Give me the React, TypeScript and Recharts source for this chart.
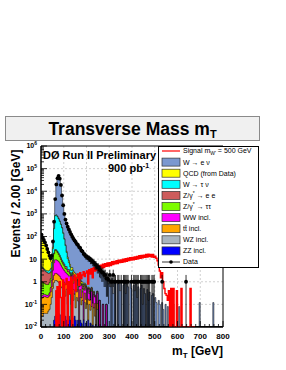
import React from "react";
import {
  Area,
  CartesianGrid,
  ComposedChart,
  ErrorBar,
  Line,
  ReferenceArea,
  Scatter,
  XAxis,
  YAxis,
} from "recharts";

const FONT = "'Liberation Sans', Arial, Helvetica, sans-serif";
const BIN_WIDTH = 5; // GeV, drawn bins (values are per 2 GeV like the y title)
const N_BINS = 160;
const FLOOR = 0.01;

const binCentres = Array.from({ length: N_BINS }, (_, i) => i * BIN_WIDTH + BIN_WIDTH / 2);

// data, events per bin
const dataCounts = [
  120, 90, 70, 55, 40, 28, 20, 14, 11, 14,
  60, 450, 4500, 20000, 38000, 48000, 36000, 19000, 6500, 2400,
  1000, 560, 380, 270, 205, 160, 125, 98, 80, 67,
  57, 47, 42, 34, 31, 24, 22, 17, 16, 13,
  13, 11, 11, 9, 9, 7.6, 7.2, 5.8, 5.6, 4.4,
  4.4, 3.4, 3.2, 2.6, 2.6, 2, 2, 1.4, 1.4, 1.2,
  2, 1, 1, 2, 1, 1, 0, 1, 1, 0,
  1, 0, 1, 1, 1, 1, 1, 0, 0, 1,
  0, 1, 1, 1, 1, 1, 0, 1, 1, 1,
  1, 1, 1, 1, 1, 1, 0, 1, 1, 1,
  0, 0, 0, 0, 0, 0, 1, 0, 0, 0,
  0, 0, 0, 0, 0, 0, 0, 0, 0, 0,
  0, 0, 0, 0, 0, 0, 0, 1,
];

const wenu = [
  0.2, 0.3, 0.4, 0.5, 0.6, 0.7, 0.8, 1, 1.5, 3,
  26, 220, 3650, 19100, 37200, 47400, 35500, 18650, 6250, 2254,
  920, 517, 358, 258, 196, 154, 121, 94, 77, 64,
  52, 43, 41, 31, 30, 21, 22, 15, 15.5, 11.5,
  12.5, 9.5, 10.5, 8, 8.8, 6.5, 7, 5, 5.3, 3.7,
  4.1, 2.8, 3, 2.1, 2.4, 1.5, 1.8, 1, 1.3, 0.8,
  1.1, 0.6, 1.4, 0.3, 0.9, 1.2, 0, 0.8, 1, 0.4,
  0.9, 0, 0.7, 1.1, 0.3, 0.8, 0.6, 0, 0.9, 0.5,
  0, 0.7, 0.4, 0.8, 0.2, 0.6, 0, 0.5, 0.7, 0.1,
  0.5, 0.3, 0, 0.45, 0.15, 0.35, 0, 0.25, 0.3, 0,
  0.2, 0.12, 0, 0.15, 0.1, 0, 0.12, 0.06, 0, 0.1,
  0, 0.08, 0, 0, 0.06, 0, 0.1, 0, 0, 0,
  0, 0.08, 0, 0, 0, 0, 0, 0, 0, 0,
  0, 0, 0, 0, 0, 0, 0, 0, 0, 0.12,
  0, 0, 0, 0, 0, 0, 0, 0, 0, 0,
  0, 0.12,
];

const qcd = [
  115, 86, 66, 51, 36, 25, 17, 11, 7, 6,
  5, 10, 20, 25, 25, 22, 18, 14, 11, 9,
  4, 3, 2.5, 2, 1.6, 1.3, 1.1, 0.9, 0.75, 0.6,
  0.5, 0.42, 0.35, 0.3, 0.25, 0.2, 0.17, 0.14, 0.12, 0.1,
  0.08, 0.07, 0.06, 0.05, 0.04, 0.03, 0.03, 0.02, 0.02, 0.02,
];

const wtaunu = [
  0.3, 0.3, 0.3, 0.35, 0.4, 0.5, 0.6, 0.8, 1, 3,
  20, 200, 800, 850, 720, 580, 450, 330, 230, 130,
  70, 35, 15, 7, 3.5, 2, 1.2, 0.8, 0.5, 0.35,
  0.25, 0.2, 0.15, 0.12, 0.1, 0.08, 0.06, 0.05, 0.04, 0.03,
];

const zee = [
  3.5, 3, 2.6, 2.2, 2, 1.8, 1.6, 1.5, 1.4, 1.4,
  1.5, 1.8, 2.2, 2.4, 2.5, 2.4, 2.2, 1.9, 1.6, 1.4,
  1.2, 0.9, 1.1, 0.6, 0.8, 0.4, 0.7, 0.3, 0.5, 0.2,
  0.45, 0.1, 0.35, 0.15, 0.3, 0, 0.25, 0.1, 0.2, 0,
  0.15, 0.05, 0.12, 0, 0.1, 0, 0.08, 0.03, 0, 0.06,
];

const ztautau = [
  0.8, 0.7, 0.6, 0.55, 0.5, 0.5, 0.5, 0.6, 0.8, 1.5,
  4, 10, 15, 14, 11, 8, 6, 4.2, 3, 2.3,
  1.8, 1.2, 1.2, 0.7, 0.9, 0.4, 0.6, 0.3, 0.4, 0.2,
  0.3, 0.1, 0.25, 0, 0.2, 0.05, 0.15, 0, 0.1, 0.05,
  0.08, 0, 0.06, 0, 0.05,
];

const ww = [
  0.05, 0.05, 0.05, 0.05, 0.05, 0.05, 0.05, 0.08, 0.2, 0.6,
  2, 5, 7, 7, 6.5, 6, 5, 4, 3.2, 2.6,
  2.2, 1.9, 1.6, 1.4, 1.2, 1.05, 0.5, 1.2, 0.4, 0.9,
  0.3, 0.8, 0, 0.6, 0.2, 0.5, 0, 0.45, 0.1, 0.4,
  0, 0.3, 0.15, 0, 0.3, 0, 0.2, 0.1, 0, 0.2,
  0, 0.15, 0, 0, 0.1, 0, 0, 0.1,
];

const ttbar = [
  0.15, 0.17, 0.18, 0.18, 0.17, 0.16, 0.16, 0.18, 0.25, 0.4,
  0.7, 1, 1.2, 1.2, 1.1, 1, 0.9, 0.8, 0.7, 0.6,
  0.55, 0.5, 0.3, 0.6, 0.2, 0.5, 0.1, 0.45, 0.3, 0,
  0.4, 0.15, 0.3, 0, 0.25, 0.1, 0.2, 0, 0.2, 0.1,
  0, 0.15, 0.05, 0.1, 0, 0.1, 0, 0.08, 0, 0.05,
];

const wz = [
  0.03, 0.03, 0.04, 0.04, 0.04, 0.04, 0.05, 0.06, 0.1, 0.2,
  0.5, 0.9, 1.1, 1.1, 1, 0.9, 0.8, 0.6, 0.5, 0.45,
  0.4, 0.2, 0.45, 0.1, 0.35, 0.25, 0, 0.3, 0.15, 0.25,
  0.05, 0.2, 0.12, 0, 0.18, 0.08, 0.15, 0, 0.12, 0.05,
  0.1, 0, 0.1, 0.04, 0.08, 0, 0.07, 0.03, 0, 0.06,
];

const zz = [
  0, 0, 0, 0, 0, 0, 0, 0, 0, 0,
  0.01, 0.02, 0.03, 0.035, 0.04, 0.04, 0.035, 0, 0.03, 0.025,
  0, 0.03, 0.02, 0, 0.03, 0.02, 0, 0.025, 0, 0.03,
  0.02, 0, 0.02, 0, 0.02, 0.015, 0, 0.02, 0, 0.015,
  0, 0.02, 0, 0.015, 0, 0.012, 0, 0, 0.012,
];

// W' (500 GeV) signal, null where no histogram is drawn
const signal = [
  null, null, null, null, null, null, null, null, null, null,
  null, null, 0.4, 0, 0.6, 0, 1, 0.2, 0, 1.2,
  0, 0.8, 1.4, 0, 1, 0.3, 1.6, 0, 1.2, 2,
  0.4, 1.5, 2.2, 0.7, 2.5, 1.4, 2, 2.8, 1.7, 2.4,
  3, 0.8, 3.4, 2.2, 3.8, 1.5, 4.2, 3, 4.8, 3.3,
  5, 3.2, 5.4, 4, 6, 4.2, 6.2, 4.8, 6.8, 5,
  7, 5.2, 7.6, 5.8, 7.8, 6.2, 8.6, 6.4, 9, 7,
  9.2, 7.2, 9.8, 7.6, 10.5, 8, 11, 8.6, 11.5, 9,
  12, 9.4, 12.5, 9.8, 13, 10.4, 14, 11, 14.5, 11.5,
  15, 12, 16, 12.5, 16.5, 13, 16, 12.5, 16, 12,
  13.5, 11, 8.5, 5.5, 3, 1.5, 2.5, 1, 0.5, 0.3,
  0.25, 0.15, 0.4, 0, 0.5, 0, 0.5, 0, 0, 0.4,
  0, 0, 0, 0.5, 0, 0, 0, 0, 0, 0,
  0, 0.5, 0, 0, 0, 0,
];

// bottom of the stack first
const stack = [
  { key: "zz", values: zz, color: "#0000ff" },
  { key: "wz", values: wz, color: "#a8b4bf" },
  { key: "ttbar", values: ttbar, color: "#ffa500" },
  { key: "ww", values: ww, color: "#ff00ff" },
  { key: "ztautau", values: ztautau, color: "#7cfc00" },
  { key: "zee", values: zee, color: "#cd5c5c" },
  { key: "wtaunu", values: wtaunu, color: "#00ffff" },
  { key: "qcd", values: qcd, color: "#ffff00" },
  { key: "wenu", values: wenu, color: "#7b98cf" },
];

const yMajor = [0.01, 0.1, 1, 10, 100, 1000, 10000, 100000, 1000000];

const xTicks: number[] = [];
for (let v = 0; v <= 800; v += 20) xTicks.push(v);
const yTicks: number[] = [];
yMajor.forEach((d, k) => {
  yTicks.push(d);
  if (k < yMajor.length - 1) for (let m = 2; m <= 9; m++) yTicks.push(Number((d * m).toPrecision(3)));
});

const rows = binCentres.map((mt, i) => {
  const row: Record<string, number | null> = { mt };
  let run = 0;
  stack.forEach((s, k) => {
    run += s.values[i] ?? 0;
    row[`c${k}`] = Math.max(run, FLOOR);
  });
  const sig = signal[i];
  row.signal = sig == null ? null : Math.max(sig, FLOOR);
  return row;
});

const dataPoints = binCentres
  .map((mt, i) => ({ mt, count: dataCounts[i] ?? 0 }))
  .filter((p) => p.count > 0)
  .map((p) => ({
    ...p,
    err: [p.count - Math.max(p.count - Math.sqrt(p.count), FLOOR), Math.sqrt(p.count)],
  }));

function XTick({ x, y, payload }: any) {
  const v = payload.value;
  const major = v % 100 === 0;
  return (
    <g>
      <line x1={x} x2={x} y1={y} y2={y - (major ? 6 : 3)} stroke="#000" strokeWidth={0.8} />
      {major && (
        <text x={x} y={y + 11.5} textAnchor="middle" fontSize={8} fontWeight="bold" fontFamily={FONT} fill="#000">
          {v}
        </text>
      )}
    </g>
  );
}

function YTick({ x, y, payload }: any) {
  const lg = Math.log10(payload.value);
  const n = Math.round(lg);
  const major = Math.abs(lg - n) < 1e-6;
  let label = null;
  if (major) {
    label = (
      <text x={x - 4} y={y} dy="0.35em" textAnchor="end" fontSize={7} fontWeight="bold" fontFamily={FONT} fill="#000">
        {n === 0 ? "1" : "10"}
        {n !== 0 && n !== 1 && (
          <tspan dy={-3} fontSize={5}>
            {n}
          </tspan>
        )}
      </text>
    );
  }
  return (
    <g>
      <line x1={x} x2={x + (major ? 6 : 3)} y1={y} y2={y} stroke="#000" strokeWidth={0.8} />
      {label}
    </g>
  );
}

const legendRows = [
  { kind: "line", color: "#ff0000", label: <>Signal m<tspan dy={1.5} fontSize={5}>W'</tspan><tspan dy={-1.5}> = 500 GeV</tspan></> },
  { kind: "box", color: "#7b98cf", label: <>W → e ν</> },
  { kind: "box", color: "#ffff00", label: <>QCD (from Data)</> },
  { kind: "box", color: "#00ffff", label: <>W → τ ν</> },
  { kind: "box", color: "#cd5c5c", label: <>Z/γ<tspan dy={-2.5} fontSize={5}>*</tspan><tspan dy={2.5}> → e e</tspan></> },
  { kind: "box", color: "#7cfc00", label: <>Z/γ<tspan dy={-2.5} fontSize={5}>*</tspan><tspan dy={2.5}> → ττ</tspan></> },
  { kind: "box", color: "#ff00ff", label: <>WW incl.</> },
  { kind: "box", color: "#ffa500", label: <>tt̄ incl.</> },
  { kind: "box", color: "#a8b4bf", label: <>WZ incl.</> },
  { kind: "box", color: "#0000ff", label: <>ZZ incl.</> },
  { kind: "data", color: "#000", label: <>Data</> },
];

export default function App() {
  return (
    <div style={{ position: "absolute", left: 0, top: 0, width: 286, height: 370, background: "#fff" }}>
      <ComposedChart width={286} height={370} data={rows} margin={{ top: 146, right: 63, bottom: 18, left: 0 }}>
        <CartesianGrid
          horizontalValues={[0.1, 1, 10, 100, 1000, 10000, 100000]}
          verticalValues={[100, 200, 300, 400, 500, 600, 700]}
          stroke="#c4c4c4"
          strokeDasharray="2 2"
          strokeWidth={0.8}
        />
        <XAxis
          dataKey="mt"
          type="number"
          domain={[0, 800]}
          allowDataOverflow
          ticks={xTicks}
          interval={0}
          tick={XTick}
          tickLine={false}
          tickSize={0}
          tickMargin={0}
          axisLine={{ stroke: "#000" }}
          height={25}
        />
        <YAxis
          type="number"
          scale="log"
          domain={[0.01, 1000000]}
          allowDataOverflow
          ticks={yTicks}
          interval={0}
          tick={YTick}
          tickLine={false}
          tickSize={0}
          tickMargin={0}
          axisLine={{ stroke: "#000" }}
          width={41}
        />
        {stack
          .map((s, k) => ({ ...s, k }))
          .reverse()
          .map((s) => (
            <Area
              key={s.key}
              type="step"
              dataKey={`c${s.k}`}
              baseValue={FLOOR}
              fill={s.color}
              fillOpacity={1}
              stroke="#000"
              strokeWidth={0.5}
              dot={false}
              activeDot={false}
              isAnimationActive={false}
            />
          ))}
        <Line
          type="step"
          dataKey="signal"
          stroke="#ff0000"
          strokeWidth={1.4}
          dot={false}
          activeDot={false}
          connectNulls={false}
          isAnimationActive={false}
        />
        <Scatter
          data={dataPoints}
          dataKey="count"
          fill="#000"
          isAnimationActive={false}
          shape={(p: any) => <circle cx={p.cx} cy={p.cy} r={1.9} fill="#000" />}
        >
          <ErrorBar dataKey="err" direction="y" width={0} stroke="#000" strokeWidth={0.8} />
        </Scatter>
        <ReferenceArea x1={0} x2={800} y1={0.01} y2={1000000} fill="none" stroke="#000" strokeWidth={1} ifOverflow="visible" />
      </ComposedChart>

      <svg width={286} height={370} style={{ position: "absolute", left: 0, top: 0, pointerEvents: "none" }} fontFamily={FONT}>
        <rect x={5.5} y={116.5} width={254} height={24} fill="#f0f0f0" stroke="#8a8a8a" />
        <text x={132.5} y={135} textAnchor="middle" fontSize={17.5} fontWeight="bold">
          Transverse Mass m<tspan dy={3} fontSize={11}>T</tspan>
        </text>

        <text x={43} y={159} fontSize={11} fontWeight="bold">DØ Run II Preliminary</text>
        <text x={108} y={172} fontSize={11} fontWeight="bold">
          900 pb<tspan dy={-4} fontSize={7}>-1</tspan>
        </text>

        <text x={223} y={355} textAnchor="end" fontSize={12} fontWeight="bold">
          m<tspan dy={2.5} fontSize={8}>T</tspan>
          <tspan dy={-2.5}> [GeV]</tspan>
        </text>
        <text x={20} y={203.5} textAnchor="middle" fontSize={12} fontWeight="bold" transform="rotate(-90 20 203.5)">
          Events / 2.00 [GeV]
        </text>

        <rect x={158.5} y={146.5} width={100} height={121} fill="#fff" stroke="#000" strokeWidth={1} />
        {legendRows.map((r, i) => {
          const cy = 151 + i * 11.1;
          return (
            <g key={i}>
              {r.kind === "box" && <rect x={162} y={cy - 4} width={18} height={8} fill={r.color} stroke="#333" strokeWidth={0.7} />}
              {r.kind === "line" && <line x1={162} x2={180} y1={cy} y2={cy} stroke={r.color} strokeWidth={1.2} />}
              {r.kind === "data" && (
                <g>
                  <line x1={162} x2={180} y1={cy} y2={cy} stroke="#000" strokeWidth={0.8} />
                  <circle cx={171} cy={cy} r={1.8} fill="#000" />
                </g>
              )}
              <text x={183} y={cy} dy="0.35em" fontSize={7} fill="#000">
                {r.label}
              </text>
            </g>
          );
        })}
      </svg>
    </div>
  );
}
